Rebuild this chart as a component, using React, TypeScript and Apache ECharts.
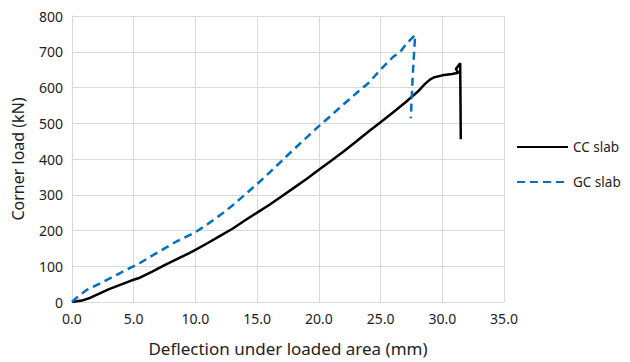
import React, { useEffect, useRef } from "react";
import * as echarts from "echarts";

const ccSlab: [number, number][] = [
  [0, 0], [0.8, 4], [1.5, 12], [2.3, 25], [3, 36], [3.9, 48], [4.8, 60], [5.5, 68],
  [6.5, 85], [7.5, 103], [8.5, 120], [9.5, 137], [10, 146], [11, 165], [12, 185],
  [13, 205], [14, 228], [15, 250], [16, 272], [17, 296], [18, 320], [19, 344],
  [20, 370], [21, 395], [22, 421], [23, 448], [24, 476], [25, 503], [26, 530],
  [27, 558], [28, 588], [28.6, 610], [29, 622], [29.3, 628], [30, 634], [30.8, 638],
  [31.3, 641], [31.1, 652], [31.45, 668], [31.5, 455],
];

const gcSlab: [number, number][] = [
  [0, 0], [0.3, 10], [1.2, 34], [2.5, 56], [3.9, 81], [5.5, 109], [7, 140], [8.5, 170],
  [10, 195], [11, 218], [12, 243], [13, 270], [14, 300], [15, 330], [16, 362],
  [17, 395], [18, 428], [19, 460], [20, 492], [21, 522], [22, 553], [23, 583],
  [24, 612], [25, 650], [26, 685], [26.6, 700], [27.0, 718], [27.4, 733], [27.8, 747],
  [27.6, 630], [27.45, 514],
];

const seriesNames = ["CC slab", "GC slab"];
const xAxisName = "Deflection under loaded area (mm)";
const yAxisName = "Corner load (kN)";

export default function App() {
  const ref = useRef<HTMLDivElement>(null);
  useEffect(() => {
    if (!ref.current) return;
    const chart = echarts.init(ref.current, undefined, { renderer: "svg" });
    const font = "'Noto Sans', sans-serif";
    chart.setOption({
      animation: false,
      grid: { left: 72, right: 126, top: 16, bottom: 60 },
      legend: {
        orient: "vertical",
        left: 516,
        top: 140,
        padding: 0,
        itemWidth: 51,
        itemHeight: 12,
        itemGap: 21,
        itemStyle: { opacity: 0 },
        textStyle: { fontFamily: font, fontSize: 13.5, color: "#222" },
        data: seriesNames,
      },
      xAxis: {
        type: "value",
        min: 0,
        max: 35,
        interval: 5,
        name: xAxisName,
        nameLocation: "middle",
        nameGap: 38,
        nameTextStyle: { fontFamily: font, fontSize: 17, color: "#222" },
        axisLine: { show: true, lineStyle: { color: "#d9d9d9" } },
        axisTick: { show: false },
        axisLabel: {
          fontFamily: font,
          fontSize: 14,
          color: "#222",
          formatter: (v: number) => v.toFixed(1),
          margin: 9,
        },
        splitLine: { show: true, lineStyle: { color: "#d9d9d9" } },
      },
      yAxis: {
        type: "value",
        min: 0,
        max: 800,
        interval: 100,
        name: yAxisName,
        nameLocation: "middle",
        nameGap: 46,
        nameTextStyle: { fontFamily: font, fontSize: 16, color: "#222" },
        axisLine: { show: true, lineStyle: { color: "#d9d9d9" } },
        axisTick: { show: false },
        axisLabel: { fontFamily: font, fontSize: 14, color: "#222", margin: 9 },
        splitLine: { show: true, lineStyle: { color: "#d9d9d9" } },
      },
      series: [
        {
          name: seriesNames[0],
          type: "line",
          data: ccSlab,
          symbol: "none",
          lineStyle: { color: "#000000", width: 2.5 },
          itemStyle: { color: "#000000" },
        },
        {
          name: seriesNames[1],
          type: "line",
          data: gcSlab,
          symbol: "none",
          lineStyle: { color: "#0070C0", width: 2.5, type: [8, 5] },
          itemStyle: { color: "#0070C0" },
        },
      ],
    });
    return () => chart.dispose();
  }, []);
  return (
    <div
      ref={ref}
      style={{ position: "absolute", left: 0, top: 0, width: 630, height: 362 }}
    />
  );
}
